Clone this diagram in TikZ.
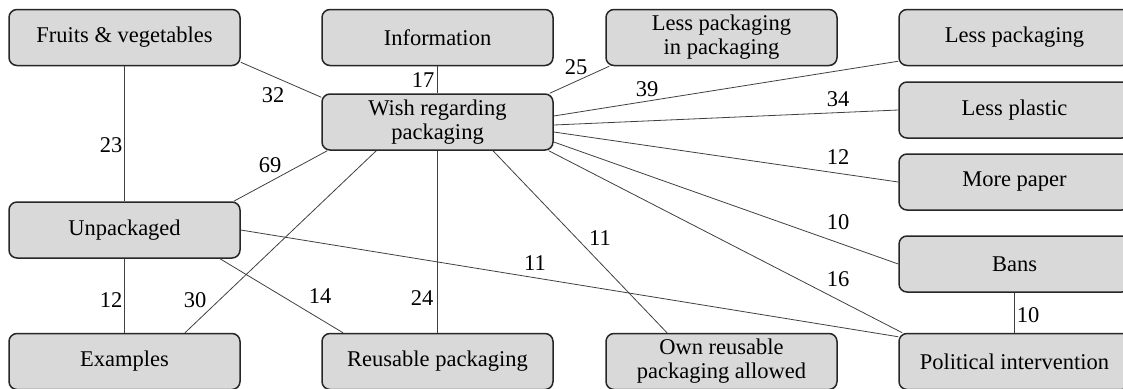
\documentclass[tikz,border=0pt]{standalone}
\usepackage{fontspec}
\setmainfont{Liberation Serif}
\begin{document}
\begin{tikzpicture}[x=1pt,y=1pt,
  box/.style={draw=black!85, line width=1.5pt, fill=black!15, rounded corners=8pt,
    minimum width=231pt, minimum height=56pt, inner sep=0pt, align=center,
    font=\fontsize{22.5}{24}\selectfont},
  conn/.style={draw=black!75, line width=0.8pt},
  num/.style={inner sep=0pt, font=\fontsize{22.5}{24}\selectfont}]
\useasboundingbox (0,0) rectangle (1123,-388);
\clip (0,0) rectangle (1123,-388);
% nodes
\node[box] (fruit) at (124.5,-37.5) {Fruits \& vegetables};
\node[box] (info) at (437.5,-37.5) {Information};
\node[box] (lpip) at (721.5,-37.5) {Less packaging\\in packaging};
\node[box] (lpack) at (1014.5,-37.5) {Less packaging};
\node[box] (wish) at (437.5,-122) {Wish regarding\\packaging};
\node[box] (lplast) at (1014.5,-110) {Less plastic};
\node[box] (paper) at (1014.5,-182) {More paper};
\node[box] (unpack) at (124.5,-230) {Unpackaged};
\node[box] (bans) at (1014.5,-264) {Bans};
\node[box] (examples) at (124.5,-361.5) {Examples};
\node[box] (reuse) at (437.5,-361.5) {Reusable packaging};
\node[box] (own) at (721.5,-361.5) {Own reusable\\packaging allowed};
\node[box] (pol) at (1014.5,-361.5) {Political intervention};
% connectors
\path[conn] ([yshift=4pt]fruit.south east) -- ([yshift=-4pt]wish.north west);
\path[conn] (fruit.south) -- (unpack.north);
\path[conn] (info.south) -- (wish.north);
\path[conn] ([xshift=-4pt]wish.north east) -- ([xshift=4pt]lpip.south west);
\path[conn] ([yshift=6pt]wish.east) -- ([yshift=5pt]lpack.south west);
\path[conn] ([yshift=-3pt]wish.east) -- (lplast.west);
\path[conn] ([yshift=-10pt]wish.east) -- (paper.west);
\path[conn] ([yshift=-20pt]wish.east) -- (bans.west);
\path[conn] ([xshift=-5pt]wish.south east) -- ([xshift=4pt]pol.north west);
\path[conn] ([xshift=6pt]wish.south west) -- ([xshift=-7pt]unpack.north east);
\path[conn] ([xshift=55pt]wish.south west) -- ([xshift=60.5pt]examples.north);
\path[conn] (wish.south) -- (reuse.north);
\path[conn] ([xshift=55.5pt]wish.south) -- ([xshift=-54.5pt]own.north);
\path[conn] (unpack.south) -- (examples.north);
\path[conn] ([xshift=95.5pt]unpack.south) -- ([xshift=-94.5pt]reuse.north);
\path[conn] (unpack.east) -- ([yshift=-4pt]pol.north west);
\path[conn] (bans.south) -- (pol.north);
% labels
\node[num] (l32) at (273,-95) {32};
\node[num] (l23) at (111,-145) {23};
\node[num] (l69) at (270,-165) {69};
\node[num] (l17) at (423,-80) {17};
\node[num] (l25) at (576,-67) {25};
\node[num] (l39) at (647,-89) {39};
\node[num] (l34) at (838,-99) {34};
\node[num] (l12a) at (838,-157) {12};
\node[num] (l10a) at (838,-222) {10};
\node[num] (l16) at (838,-279) {16};
\node[num] (l10b) at (1028,-315) {10};
\node[num] (l12b) at (111,-300) {12};
\node[num] (l30) at (195,-300) {30};
\node[num] (l14) at (320,-296) {14};
\node[num] (l24) at (422,-298) {24};
\node[num] (l11a) at (600,-238) {11};
\node[num] (l11b) at (535,-263) {11};
\end{tikzpicture}
\end{document}
